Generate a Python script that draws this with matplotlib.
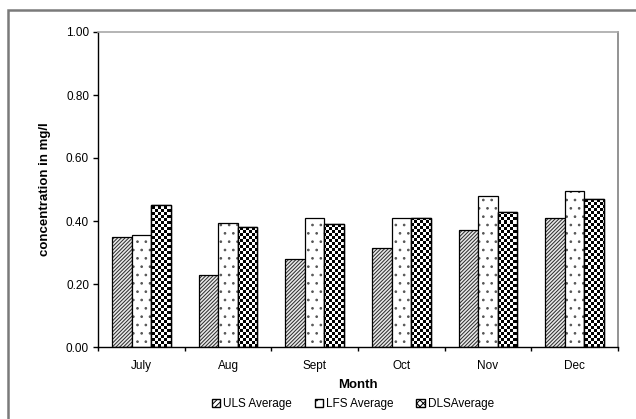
import numpy as np
import matplotlib
matplotlib.use("Agg")
import matplotlib.pyplot as plt
import matplotlib.patches as mpatches

# monthly average concentrations (mg/l)
months  = ["July", "Aug", "Sept", "Oct", "Nov", "Dec"]
uls_avg = [0.35, 0.23, 0.28, 0.315, 0.37, 0.41]
lfs_avg = [0.355, 0.395, 0.41, 0.41, 0.48, 0.495]
dls_avg = [0.45, 0.38, 0.39, 0.41, 0.43, 0.47]
series_labels = ["ULS Average", "LFS Average", "DLSAverage"]

plt.rcParams["font.family"] = ["Liberation Sans", "DejaVu Sans"]
plt.rcParams["hatch.linewidth"] = 0.7

W, H = 636, 419
fig = plt.figure(figsize=(W / 100, H / 100), dpi=100)
ax = fig.add_axes([98 / W, 72 / H, 520 / W, 315 / H])

# outer chart frame (only top and left edges visible)
fig.add_artist(mpatches.Rectangle((8 / W, -0.1), 1.2, 1.1 - 10 / H,
                                  transform=fig.transFigure, fill=False,
                                  edgecolor="#7a7a7a", lw=1.8))

x = np.arange(len(months))
w = 0.225

# ULS: dense diagonal hatch
ax.bar(x - w, uls_avg, w, facecolor="#e8e8e8", edgecolor="#2a2a2a",
       hatch="/////////", linewidth=0)
ax.bar(x - w, uls_avg, w, fill=False, edgecolor="black", linewidth=0.9)

# LFS: sparse dots
ax.bar(x, lfs_avg, w, facecolor="white", edgecolor="#555555",
       hatch="..", linewidth=0)
ax.bar(x, lfs_avg, w, fill=False, edgecolor="black", linewidth=0.9)

# DLS: checkerboard texture clipped to each bar
ax.set_xlim(-0.5, len(months) - 0.5)
ax.set_ylim(0, 1.0)
ny, nx = 315 // 3, 520 // 3
checker = (np.add.outer(np.arange(ny), np.arange(nx)) % 2).astype(float)
dls_bars = ax.bar(x + w, dls_avg, w, facecolor="white", edgecolor="black",
                  linewidth=0.9)
for b in dls_bars:
    im = ax.imshow(checker, cmap="gray", extent=(-0.5, len(months) - 0.5, 0, 1.0),
                   aspect="auto", interpolation="nearest", origin="lower",
                   zorder=b.get_zorder() + 0.1)
    im.set_clip_path(b)
ax.bar(x + w, dls_avg, w, fill=False, edgecolor="black", linewidth=1.0,
       zorder=3)
ax.set_xlim(-0.5, len(months) - 0.5)
ax.set_ylim(0, 1.0)

# axes styling
ax.spines["top"].set_color("#a8a8a8")
ax.spines["right"].set_color("#808080")
ax.spines["top"].set_linewidth(1.2)
ax.spines["right"].set_linewidth(1.2)
ax.spines["left"].set_linewidth(1.0)
ax.spines["bottom"].set_linewidth(1.0)

ax.set_yticks(np.arange(0, 1.01, 0.2))
ax.set_yticklabels([f"{v:.2f}" for v in np.arange(0, 1.01, 0.2)])
ax.tick_params(axis="y", length=3.6, width=1.0, labelsize=8.5, pad=2.8)

ax.set_xticks(np.arange(len(months) + 1) - 0.5)
ax.set_xticklabels([])
ax.set_xticks(x, minor=True)
ax.set_xticklabels(months, minor=True)
ax.tick_params(axis="x", which="major", length=3, width=1.0)
ax.tick_params(axis="x", which="minor", length=0, labelsize=8.5, pad=9.5)

ax.set_xlabel("Month", fontsize=9.5, fontweight="bold", labelpad=5)
ax.set_ylabel("concentration in mg/l", fontsize=9.5, fontweight="bold",
              labelpad=11)

handles = [
    mpatches.Patch(facecolor="white", edgecolor="black", hatch="//////"),
    mpatches.Patch(facecolor="white", edgecolor="black", hatch=".."),
    mpatches.Patch(facecolor="white", edgecolor="black", hatch="xxxxx"),
]
fig.legend(handles, series_labels, loc="center",
           bbox_to_anchor=(0.555, 1 - 404 / H), ncol=3, frameon=False,
           fontsize=8.5, handlelength=0.7, handleheight=0.7,
           handletextpad=0.3, columnspacing=1.9)

fig.savefig("out.png", dpi=100)
